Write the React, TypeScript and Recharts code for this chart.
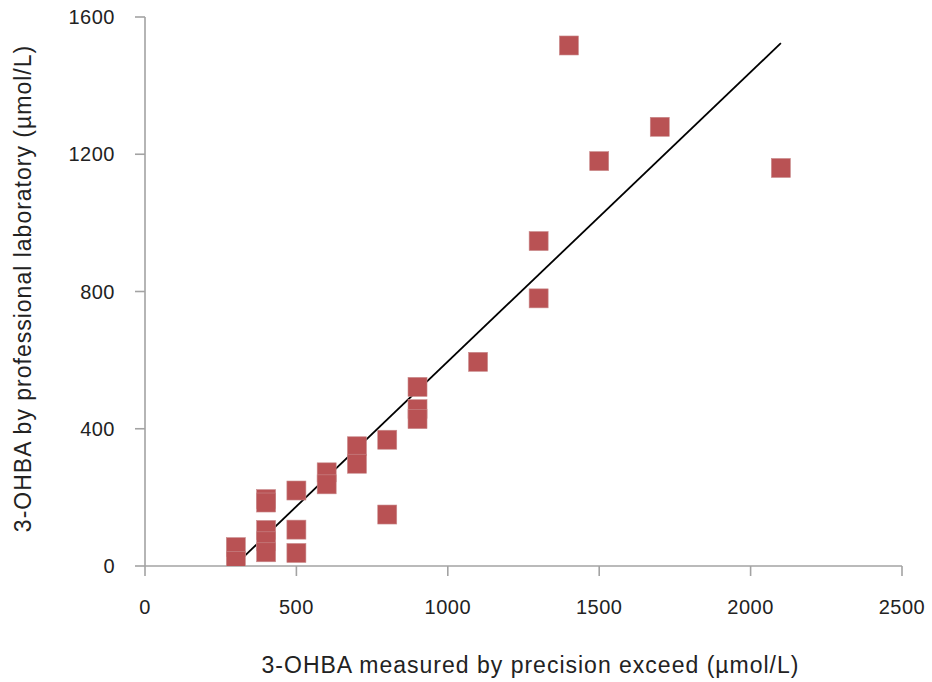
import React from "react";
import { ScatterChart, Scatter, XAxis, YAxis, ReferenceLine } from "recharts";

const precisionExceed = [300, 300, 400, 400, 400, 400, 400, 500, 500, 500, 600, 600, 700, 700, 800, 800, 900, 900, 900, 1100, 1300, 1300, 1400, 1500, 1700, 2100];
const professionalLab = [55, 15, 195, 185, 105, 72, 40, 220, 106, 38, 273, 238, 349, 298, 368, 150, 522, 457, 428, 595, 947, 780, 1517, 1180, 1280, 1160];
const xTicks = [0, 500, 1000, 1500, 2000, 2500];
const yTicks = [0, 400, 800, 1200, 1600];
const trendStart = { x: 300, y: 5 };
const trendEnd = { x: 2100, y: 1524 };

const data = precisionExceed.map((x, i) => ({ x, y: professionalLab[i] }));

const FONT = "'Liberation Sans', Arial, Helvetica, sans-serif";
const TEXT = "#222222";
const AXIS = "#a3a3a3";
const MARK = "#b95254";

const SquareMark = (props: any) => {
  const { cx, cy } = props;
  if (cx == null || cy == null) return null;
  const s = 19;
  return <rect x={cx - s / 2} y={cy - s / 2} width={s} height={s} fill={MARK} stroke="#c98a8b" strokeWidth={0.6} />;
};

const XTitle = (props: any) => {
  const { x, y, width, height } = props.viewBox;
  return (
    <text x={x + width / 2 + 7} y={y + height - 9} textAnchor="middle" fill={TEXT} fontSize={23} fontFamily={FONT} letterSpacing={1.0}>
      3-OHBA measured by precision exceed (µmol/L)
    </text>
  );
};

const YTitle = (props: any) => {
  const { y, height } = props.viewBox;
  const tx = 31;
  const ty = y + height / 2 - 3;
  return (
    <text x={tx} y={ty} textAnchor="middle" fill={TEXT} fontSize={23} fontFamily={FONT} letterSpacing={1.0} transform={`rotate(-90, ${tx}, ${ty})`}>
      3-OHBA by professional laboratory (µmol/L)
    </text>
  );
};

export default function App() {
  return (
    <div style={{ position: "absolute", left: 0, top: 0, background: "#fff" }}>
      <ScatterChart width={932} height={682} margin={{ top: 17, right: 30, left: 0, bottom: 0 }}>
        <XAxis
          type="number"
          dataKey="x"
          domain={[0, 2500]}
          ticks={xTicks}
          height={116}
          tickSize={10}
          tickMargin={24}
          axisLine={{ stroke: AXIS, strokeWidth: 1.6 }}
          tickLine={{ stroke: AXIS, strokeWidth: 1.6 }}
          tick={{ fill: TEXT, fontSize: 20, fontFamily: FONT, letterSpacing: 0.5 }}
          label={<XTitle />}
          allowDataOverflow
        />
        <YAxis
          type="number"
          dataKey="y"
          domain={[0, 1600]}
          ticks={yTicks}
          width={145}
          tickSize={10}
          tickMargin={20}
          axisLine={{ stroke: AXIS, strokeWidth: 1.6 }}
          tickLine={{ stroke: AXIS, strokeWidth: 1.6 }}
          tick={{ fill: TEXT, fontSize: 20, fontFamily: FONT, letterSpacing: 0.5 }}
          label={<YTitle />}
          allowDataOverflow
        />
        <Scatter data={data} shape={<SquareMark />} isAnimationActive={false} />
        <ReferenceLine segment={[trendStart, trendEnd]} stroke="#000" strokeWidth={1.8} ifOverflow="visible" />
      </ScatterChart>
    </div>
  );
}
